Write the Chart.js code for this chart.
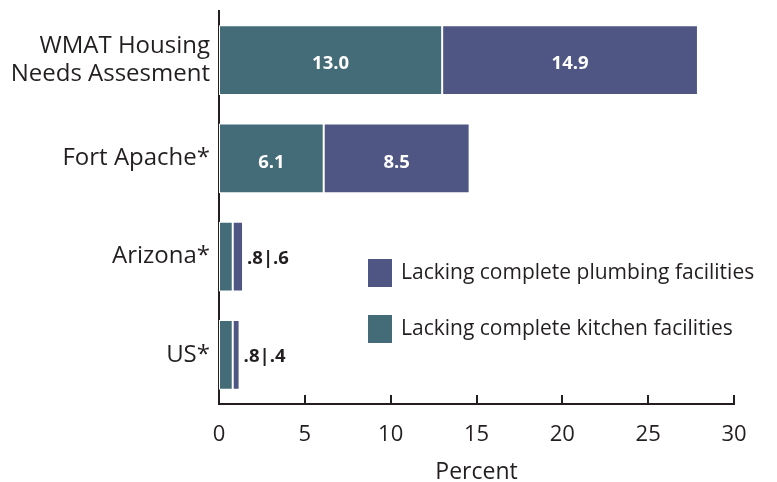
<!DOCTYPE html>
<html>
<head>
<meta charset="utf-8">
<script src="https://cdn.jsdelivr.net/npm/chart.js@4"></script>
<style>
  html, body { margin: 0; padding: 0; background: #fff; }
  #wrap { width: 777px; height: 482px; }
</style>
</head>
<body>
<div id="wrap"><canvas id="myChart" width="777" height="482"></canvas></div>
<script>
const categories = [
  ['WMAT Housing', 'Needs Assesment'],
  'Fort Apache*',
  'Arizona*',
  'US*'
];
const kitchen = [13.0, 6.1, 0.8, 0.8];
const plumbing = [14.9, 8.5, 0.6, 0.4];
const xTicks = [0, 5, 10, 15, 20, 25, 30];

const kitchenColor = '#446b78';
const plumbingColor = '#4f5683';
const textColor = '#231f20';
const font = 'Open Sans';

function fmt(v) {
  return v < 1 ? String(v).replace(/^0/, '') : v.toFixed(1);
}

// value labels: inside the big bars, combined to the right of the small ones
const barLabels = {
  id: 'barLabels',
  afterDatasetsDraw(chart) {
    const ctx = chart.ctx;
    const m0 = chart.getDatasetMeta(0).data;
    const m1 = chart.getDatasetMeta(1).data;
    ctx.save();
    ctx.font = 'bold 18.5px "' + font + '"';
    ctx.textBaseline = 'middle';
    categories.forEach((c, i) => {
      const a = kitchen[i], b = plumbing[i];
      if (a >= 2) {
        ctx.fillStyle = '#fff';
        ctx.textAlign = 'center';
        ctx.fillText(fmt(a), (m0[i].x + m0[i].base) / 2, m0[i].y + 4);
        ctx.fillText(fmt(b), (m1[i].x + m1[i].base) / 2, m1[i].y + 4);
      } else {
        ctx.fillStyle = textColor;
        ctx.textAlign = 'left';
        ctx.fillText(fmt(a) + '|' + fmt(b), m1[i].x + 4, m1[i].y + 2);
      }
    });
    ctx.restore();
  }
};

// tick marks pointing up into the plot
const innerTicks = {
  id: 'innerTicks',
  afterDraw(chart) {
    const ctx = chart.ctx;
    const x = chart.scales.x;
    const bottom = chart.chartArea.bottom;
    ctx.save();
    ctx.strokeStyle = textColor;
    ctx.lineWidth = 2;
    xTicks.forEach(t => {
      const px = Math.round(x.getPixelForValue(t));
      ctx.beginPath();
      ctx.moveTo(px, bottom);
      ctx.lineTo(px, bottom - 9);
      ctx.stroke();
    });
    ctx.restore();
  }
};

// legend drawn inside the chart area
const innerLegend = {
  id: 'innerLegend',
  afterDraw(chart) {
    const ctx = chart.ctx;
    const items = [
      { text: 'Lacking complete plumbing facilities', color: plumbingColor },
      { text: 'Lacking complete kitchen facilities', color: kitchenColor }
    ];
    ctx.save();
    ctx.font = '21px "' + font + '"';
    ctx.textBaseline = 'middle';
    ctx.textAlign = 'left';
    items.forEach((it, i) => {
      const y = 259 + i * 56;
      ctx.fillStyle = it.color;
      ctx.fillRect(368, y, 24, 28);
      ctx.fillStyle = textColor;
      ctx.fillText(it.text, 401, y + 14);
    });
    ctx.restore();
  }
};

const config = {
  type: 'bar',
  data: {
    labels: categories,
    datasets: [{
      label: 'Lacking complete kitchen facilities',
      data: kitchen,
      backgroundColor: kitchenColor,
      borderColor: '#fff',
      borderWidth: 1,
      borderSkipped: false
    }, {
      label: 'Lacking complete plumbing facilities',
      data: plumbing,
      backgroundColor: plumbingColor,
      borderColor: '#fff',
      borderWidth: 1,
      borderSkipped: false
    }]
  },
  options: {
    indexAxis: 'y',
    responsive: false,
    animation: false,
    layout: { padding: { top: 11, right: 43, left: 0, bottom: 0 } },
    datasets: { bar: { categoryPercentage: 1, barPercentage: 0.71 } },
    plugins: {
      legend: { display: false },
      tooltip: { enabled: false }
    },
    scales: {
      x: {
        stacked: true,
        min: 0,
        max: 30,
        afterBuildTicks: s => { s.ticks = xTicks.map(v => ({ value: v })); },
        grid: { display: false },
        border: { display: true, color: textColor, width: 2 },
        ticks: { color: textColor, font: { family: font, size: 22 }, padding: 10, maxRotation: 0 },
        title: { display: true, text: 'Percent', color: textColor, font: { family: font, size: 23 }, padding: { top: 0, bottom: -4 } },
        afterFit: s => { s.height = 78; }
      },
      y: {
        stacked: true,
        grid: { display: false, drawTicks: false },
        border: { display: true, color: textColor, width: 2 },
        ticks: { color: textColor, font: { family: font, size: 24, lineHeight: 1.13 }, padding: 9 },
        afterFit: s => { s.width = 219; s.paddingTop = 0; s.paddingBottom = 0; }
      }
    }
  },
  plugins: [barLabels, innerTicks, innerLegend]
};

const myChart = new Chart(document.getElementById('myChart'), config);
</script>
</body>
</html>
